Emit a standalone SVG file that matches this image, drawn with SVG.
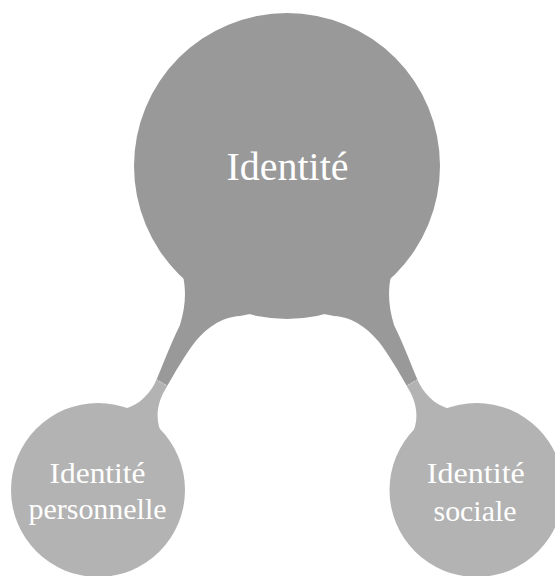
<svg xmlns="http://www.w3.org/2000/svg" xmlns:xlink="http://www.w3.org/1999/xlink" width="555" height="576" viewBox="0 0 555 576">
  <style>
    .main { fill: #999999; }
    .child { fill: #b3b3b3; }
    .lbl { font-family: "Liberation Serif", "DejaVu Serif", serif; fill: #ffffff; text-anchor: middle; }
    .seam { stroke: #ffffff; stroke-width: 0.8; stroke-dasharray: 2 1; opacity: 0.7; }
  </style>
  <defs>
    <linearGradient id="barGrad" gradientUnits="userSpaceOnUse" x1="192.7" y1="331.2" x2="132.3" y2="434.8">
      <stop offset="0" stop-color="#999999"/>
      <stop offset="0.5" stop-color="#999999"/>
      <stop offset="0.5" stop-color="#b3b3b3"/>
      <stop offset="1" stop-color="#b3b3b3"/>
    </linearGradient>
    <path id="bar" fill="url(#barGrad)" d="M 215 250 L 183 276 C 186 290, 186 305, 180 325 C 170 345, 163 365, 155 383 C 147 398, 135 408, 118 410 L 105 412 L 120 445 L 165 442 L 163 436 C 155 423, 156 405, 165 390 C 175 372, 185 355, 195 342 C 205 330, 220 317, 240 316 L 250 314 L 255 300 Z"/>
  </defs>
  <g id="connectors">
    <use xlink:href="#bar"/>
    <line class="seam" x1="156.5" y1="379.5" x2="168.5" y2="386.5"/>
    <g transform="matrix(-1 0 0 1 574 0)">
      <use xlink:href="#bar"/>
      <line class="seam" x1="156.5" y1="379.5" x2="168.5" y2="386.5"/>
    </g>
  </g>
  <g id="identite">
    <circle class="main" cx="287" cy="166" r="153"/>
    <text class="lbl" x="287.5" y="180" font-size="39" textLength="122" lengthAdjust="spacingAndGlyphs">Identité</text>
  </g>
  <g id="identite-personnelle">
    <circle class="child" cx="98" cy="490" r="87"/>
    <text class="lbl" x="97.5" y="482.7" font-size="29.3" textLength="96" lengthAdjust="spacingAndGlyphs">Identité</text>
    <text class="lbl" x="97.5" y="519.3" font-size="29.3" textLength="138" lengthAdjust="spacingAndGlyphs">personnelle</text>
  </g>
  <g id="identite-sociale">
    <circle class="child" cx="476.5" cy="490" r="87"/>
    <text class="lbl" x="475.8" y="483.3" font-size="29.3" textLength="98" lengthAdjust="spacingAndGlyphs">Identité</text>
    <text class="lbl" x="475" y="520.7" font-size="29.3" textLength="83" lengthAdjust="spacingAndGlyphs">sociale</text>
  </g>
</svg>
